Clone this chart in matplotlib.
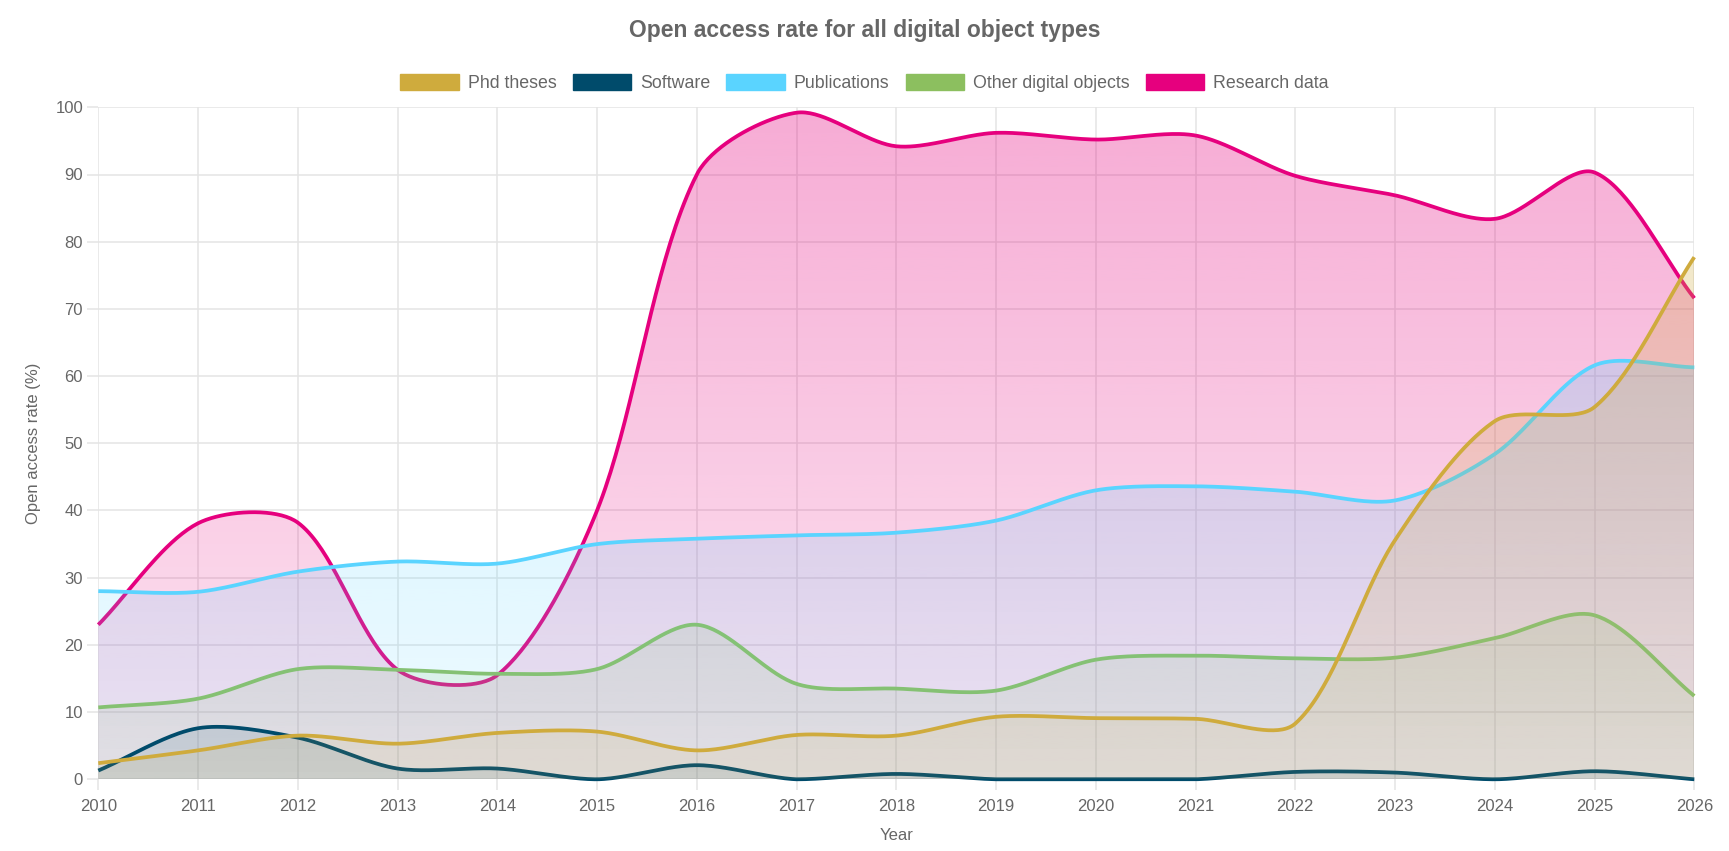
import numpy as np
import matplotlib
matplotlib.use("Agg")
import matplotlib.pyplot as plt
from matplotlib.patches import Polygon, Patch

years = list(range(2010, 2027))
phd_theses = [2.4, 4.3, 6.5, 5.3, 6.9, 7.1, 4.3, 6.6, 6.5, 9.3, 9.1, 9.0, 8.3, 35.6, 53.3, 55.4, 77.7]
software = [1.3, 7.6, 6.2, 1.6, 1.6, 0.0, 2.1, 0.0, 0.8, 0.0, 0.0, 0.0, 1.1, 1.0, 0.0, 1.2, 0.0]
publications = [28.0, 27.9, 30.9, 32.4, 32.1, 35.0, 35.8, 36.3, 36.7, 38.5, 43.0, 43.6, 42.8, 41.5, 48.4, 61.6, 61.3]
other_objects = [10.7, 12.0, 16.4, 16.3, 15.7, 16.4, 23.0, 14.2, 13.5, 13.2, 17.8, 18.4, 18.0, 18.1, 21.0, 24.4, 12.4]
research_data = [23.0, 38.1, 38.2, 16.3, 15.5, 40.0, 90.0, 99.2, 94.2, 96.2, 95.2, 95.8, 89.8, 86.9, 83.4, 90.3, 71.6]

labels = ["Phd theses", "Software", "Publications", "Other digital objects", "Research data"]
series = [phd_theses, software, publications, other_objects, research_data]
colors = ["#cfab3d", "#004b6b", "#5ad4ff", "#8cbf5f", "#e6007e"]

plt.rcParams['font.family'] = ['Liberation Sans', 'DejaVu Sans']

W, H = 1729, 851
fig = plt.figure(figsize=(W / 100, H / 100), dpi=100)
left, right, top, bottom = 98.3, 1694.3, 107.3, 779.3
ax = fig.add_axes([left / W, 1 - bottom / H, (right - left) / W, (bottom - top) / H])
ax.set_xlim(2010, 2026)
ax.set_ylim(0, 100)

grid_c = "#e4e4e4"
ax.set_xticks(years)
ax.set_yticks(range(0, 101, 10))
ax.grid(True, color=grid_c, linewidth=1.1)
ax.set_axisbelow(True)
for s in ax.spines.values():
    s.set_visible(False)
ax.tick_params(axis='both', length=8, color=grid_c, width=1.1, labelcolor="#666666", labelsize=12)
ax.tick_params(axis='x', pad=6)
ax.tick_params(axis='y', pad=3)
ax.set_xlabel("Year", color="#666666", fontsize=12, labelpad=10)
ax.set_ylabel("Open access rate (%)", color="#666666", fontsize=12, labelpad=10)

fig.text(0.5, 1 - 30 / H, "Open access rate for all digital object types", ha='center', va='center',
         fontsize=16.5, fontweight='bold', color="#666666")

# Chart.js style spline computed in pixel space
fig.canvas.draw()
tr = ax.transData
inv = tr.inverted()
x0p, y0p = tr.transform((2010, 0))
x1p, y1p = tr.transform((2026, 100))


def spline(xs, ys, t=0.3, nseg=40):
    pts = tr.transform(np.column_stack([xs, ys]))
    n = len(pts)
    cp_prev = np.zeros_like(pts)
    cp_next = np.zeros_like(pts)
    for i in range(n):
        cur = pts[i]
        prev = pts[i - 1] if i > 0 else cur
        nxt = pts[i + 1] if i < n - 1 else cur
        d01 = np.hypot(*(cur - prev))
        d12 = np.hypot(*(nxt - cur))
        tot = d01 + d12
        s01 = d01 / tot if tot else 0
        s12 = d12 / tot if tot else 0
        fa, fb = t * s01, t * s12
        cp_prev[i] = cur - fa * (nxt - prev)
        cp_next[i] = cur + fb * (nxt - prev)
    for cp in (cp_prev, cp_next):
        cp[:, 0] = np.clip(cp[:, 0], x0p, x1p)
        cp[:, 1] = np.clip(cp[:, 1], y0p, y1p)
    out = [pts[0]]
    u = np.linspace(0, 1, nseg + 1)[1:][:, None]
    for i in range(n - 1):
        p0, p1, p2, p3 = pts[i], cp_next[i], cp_prev[i + 1], pts[i + 1]
        seg = ((1 - u) ** 3) * p0 + 3 * ((1 - u) ** 2) * u * p1 + 3 * (1 - u) * u ** 2 * p2 + u ** 3 * p3
        out.extend(seg)
    out = inv.transform(np.array(out))
    return out[:, 0], out[:, 1]


grad_n = 256
alpha = np.linspace(0.10, 0.33, grad_n)
n_series = len(series)
for k in reversed(range(n_series)):
    z = (n_series - k) * 2
    sx, sy = spline(years, series[k])
    rgb = matplotlib.colors.to_rgb(colors[k])
    img = np.zeros((grad_n, 1, 4))
    img[:, 0, :3] = rgb
    img[:, 0, 3] = alpha
    im = ax.imshow(img, extent=[2010, 2026, 0, 100], origin='lower', aspect='auto',
                   interpolation='bilinear', zorder=z)
    verts = np.vstack([np.column_stack([sx, sy]), [[sx[-1], 0], [sx[0], 0]]])
    poly = Polygon(verts, closed=True, transform=ax.transData)
    im.set_clip_path(poly)
    ax.plot(sx, sy, color=colors[k], linewidth=2.7, zorder=z + 1, clip_on=False,
            solid_capstyle='butt')

ax.set_xlim(2010, 2026)
ax.set_ylim(0, 100)

handles = [Patch(facecolor=c, edgecolor=c) for c in colors]
fig.legend(handles, labels, loc='center', bbox_to_anchor=(0.5, 1 - 83 / H), ncol=5,
           frameon=False, fontsize=12.8, handlelength=3.3, handleheight=1.0,
           handletextpad=0.5, columnspacing=0.9, labelcolor="#666666")

fig.savefig("out.png", dpi=100)
